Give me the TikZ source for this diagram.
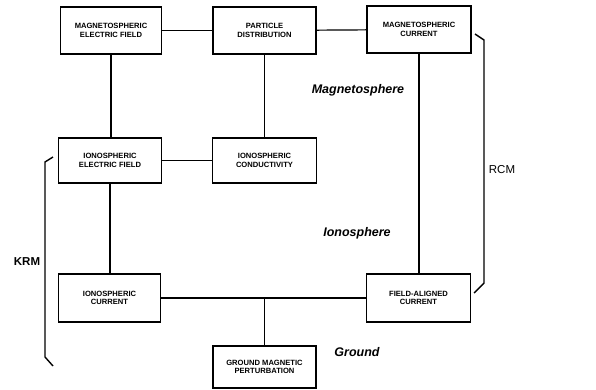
\documentclass[tikz,border=0pt]{standalone}
\usepackage{fontspec}
\setmainfont{Liberation Sans}
\begin{document}
\begin{tikzpicture}[x=1pt,y=-1pt,
  blk/.style={draw,line width=1.8pt,rectangle,inner sep=0pt,align=center,
    font=\fontsize{7.6}{8.6}\selectfont\bfseries},
  link/.style={line width=1.2pt},
  brk/.style={line width=1.4pt},
  region/.style={font=\fontsize{12.5}{14}\selectfont\bfseries\itshape}]
\useasboundingbox (0,0) rectangle (596,389);
\node[blk,minimum width=101pt,minimum height=47pt] (b1) at (111,30.5) {MAGNETOSPHERIC\\ELECTRIC FIELD};
\node[blk,minimum width=103pt,minimum height=47pt] (b2) at (264.5,30.5) {PARTICLE\\DISTRIBUTION};
\node[blk,minimum width=104pt,minimum height=47pt] (b3) at (419,29.5) {MAGNETOSPHERIC\\CURRENT};
\node[blk,minimum width=103pt,minimum height=45pt] (b4) at (110,160.5) {IONOSPHERIC\\ELECTRIC FIELD};
\node[blk,minimum width=104pt,minimum height=45pt] (b5) at (264.5,160.5) {IONOSPHERIC\\CONDUCTIVITY};
\node[blk,minimum width=102pt,minimum height=48pt] (b6) at (109.5,298) {IONOSPHERIC\\CURRENT};
\node[blk,minimum width=104pt,minimum height=48pt] (b7) at (418.5,298) {FIELD-ALIGNED\\CURRENT};
\node[blk,minimum width=103pt,minimum height=42pt] (b8) at (264.5,367) {GROUND MAGNETIC\\PERTURBATION};
\node[region] (lm) at (358,90) {Magnetosphere};
\node[region] (li) at (357,233) {Ionosphere};
\node[region] (lg) at (357,352) {Ground};
\node[font=\fontsize{11.5}{13}\selectfont] (rcm) at (502,170) {RCM};
\node[font=\fontsize{11.5}{13}\selectfont\bfseries] (krm) at (27,262) {KRM};
\draw[link] (b1) -- (b2);
\draw[link] (b2) -- (b3);
\draw[link] (b1.south) -- (b1.south |- b4.north);
\draw[link] (b2.south) -- (b5.north);
\draw[link] (b3.south) -- (b3.south |- b7.north);
\draw[link] (b4) -- (b5);
\draw[link] (b4.south) -- (b4.south |- b6.north);
\draw[link] (b6) -- (b7);
\coordinate (j) at (b6.east -| b8.north);
\draw[link] (j) -- (b8.north);
\coordinate (r1) at (475,34);
\coordinate (r2) at (484,40);
\coordinate (r3) at (484,283);
\coordinate (r4) at (474,293);
\draw[brk] (r1) -- (r2) -- (r3) -- (r4);
\coordinate (k1) at (53,157);
\coordinate (k2) at (45,162);
\coordinate (k3) at (45,357);
\coordinate (k4) at (53,366);
\draw[brk] (k1) -- (k2) -- (k3) -- (k4);
\end{tikzpicture}
\end{document}
